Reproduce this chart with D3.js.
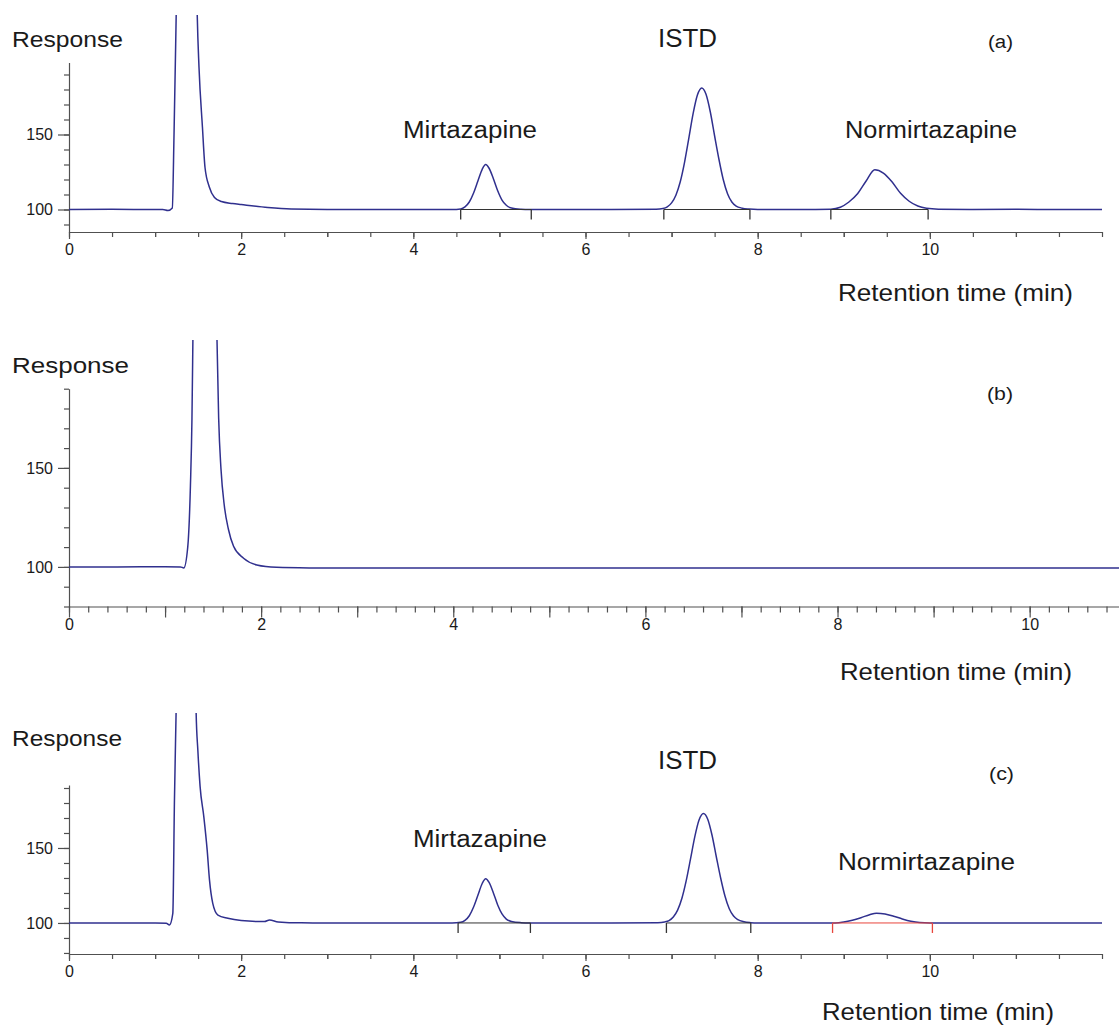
<!DOCTYPE html>
<html>
<head>
  <title>Chromatograms</title>
  <script src="https://d3js.org/d3.v7.min.js"></script>
  <style>
    body { margin: 0; background: #fff; }
    text { font-family: "Liberation Sans", Arial, sans-serif; fill: #1a1a1a; }
  </style>
</head>
<body>
  <div id="chart"></div>

  <script>
    // trace values: [retention time (min), response]
    var traceA = [
      [0, 100], [0.5, 100.1], [1.0, 100], [1.09, 100], [1.15, 99.3], [1.2, 101], [1.22, 150], [1.245, 229],
      [1.3, 420], [1.38, 520], [1.45, 400], [1.49, 229], [1.51, 195], [1.55, 155], [1.58, 128], [1.63, 115],
      [1.69, 108], [1.77, 105.3], [1.9, 104], [2.0, 103.3], [2.31, 101.3], [2.58, 100.3], [3.0, 100], [3.5, 100],
      [4.0, 100], [4.45, 100], [4.55, 100.4], [4.6, 101.8], [4.65, 105], [4.7, 111], [4.75, 119], [4.8, 126.8],
      [4.84, 130], [4.88, 127.5], [4.93, 120.5], [4.98, 112.5], [5.03, 106.3], [5.08, 102.8], [5.14, 101], [5.25, 100.2],
      [5.35, 100], [5.8, 100], [6.3, 100], [6.82, 100.2], [6.9, 100.7], [6.95, 101.8], [7.0, 104.4], [7.05, 109.5],
      [7.1, 118.3], [7.15, 131.3], [7.2, 147.4], [7.25, 163.9], [7.3, 176.3], [7.35, 181], [7.4, 176.8], [7.45, 165],
      [7.5, 149], [7.55, 133.5], [7.6, 120], [7.65, 110.5], [7.7, 105], [7.75, 102.3], [7.82, 100.9], [7.9, 100.3],
      [8.0, 100], [8.5, 100], [8.85, 100.2], [8.96, 101.5], [9.06, 105], [9.16, 110.5], [9.26, 119], [9.36, 126.5],
      [9.46, 124.3], [9.56, 118.5], [9.66, 110.8], [9.76, 105.5], [9.86, 102.3], [9.96, 100.8], [10.1, 100.2], [10.5, 100],
      [11.0, 100.1], [11.5, 100], [12.0, 100]
    ];

    var traceB = [
      [0, 100], [0.5, 100], [1.0, 100.1], [1.16, 100], [1.195, 99.5], [1.236, 110], [1.264, 141], [1.28, 175],
      [1.29, 216], [1.33, 400], [1.42, 520], [1.5, 380], [1.54, 216], [1.558, 175], [1.582, 149.5], [1.617, 130.8],
      [1.66, 118.9], [1.713, 110.4], [1.817, 104.4], [1.955, 101], [2.16, 99.8], [2.5, 99.5], [3, 99.4], [4, 99.5],
      [5, 99.4], [6, 99.5], [7, 99.4], [8, 99.5], [9, 99.4], [10, 99.5], [10.93, 99.4]
    ];

    var traceC = [
      [0, 100], [0.5, 100], [1.0, 99.9], [1.13, 99.8], [1.167, 98.7], [1.206, 106.4], [1.225, 182], [1.244, 240],
      [1.3, 420], [1.4, 480], [1.46, 330], [1.477, 240], [1.497, 215], [1.523, 190.9], [1.566, 170.9], [1.605, 148.7],
      [1.632, 128.7], [1.67, 113.1], [1.73, 105.3], [1.845, 103.1], [2.0, 101.6], [2.27, 100.9], [2.33, 102], [2.43, 100.7],
      [2.7, 100.1], [3.2, 100], [4.0, 100], [4.45, 100], [4.55, 100.4], [4.6, 101.7], [4.65, 104.8], [4.7, 110.6],
      [4.75, 118.5], [4.8, 126.3], [4.84, 129.5], [4.88, 127], [4.93, 120], [4.98, 112], [5.03, 106], [5.08, 102.6],
      [5.14, 101], [5.25, 100.2], [5.35, 100], [5.8, 100], [6.3, 100], [6.84, 100.2], [6.92, 100.7], [6.97, 101.6],
      [7.02, 104], [7.07, 108.6], [7.12, 116.5], [7.17, 128.2], [7.22, 142.7], [7.27, 157.6], [7.32, 168.8], [7.37, 173],
      [7.42, 169.2], [7.47, 158.5], [7.52, 144], [7.57, 130], [7.62, 118], [7.67, 109.5], [7.72, 104.6], [7.77, 102.2],
      [7.84, 100.8], [7.92, 100.2], [8.0, 100], [8.5, 100], [8.9, 100], [9.0, 100.6], [9.1, 101.8], [9.2, 103.5],
      [9.3, 105.5], [9.38, 106.5], [9.48, 106], [9.58, 104.5], [9.68, 102.7], [9.78, 101.2], [9.88, 100.3], [10.0, 100],
      [10.5, 100], [11.0, 100], [11.5, 100], [12.0, 100]
    ];

    // integration windows (start, end) for Mirtazapine, ISTD, Normirtazapine
    var peakNames = ['Mirtazapine', 'ISTD', 'Normirtazapine'];
    var windowsA = [[4.55, 5.37], [6.91, 7.91], [8.85, 9.98]];
    var windowsC = [[4.52, 5.36], [6.94, 7.92], [8.87, 10.03]];

    var yTickLabels = [100, 150];
    var xTickLabels = [0, 2, 4, 6, 8, 10];

    var svg = d3.select('#chart').append('svg')
      .attr('width', 1119)
      .attr('height', 1025);

    var traceColor = '#30308e';
    var axisColor = '#505050';

    var panels = [
      {
        id: 'a', trace: traceA, windows: windowsA, windowColors: ['#333', '#333', '#333'],
        xDomain: [0, 12], xRange: [69, 1102], yDomain: [85, 198], yRange: [232, 62.5], clipTop: 15,
        minorStep: 0.5, minorLen: 5, midLen: 5, majorLen: 7,
        labels: [
          { t: 'Response', x: 12, y: 47, s: 22, w: 111 },
          { t: peakNames[1], x: 658, y: 47, s: 25, w: 59 },
          { t: '(a)', x: 988, y: 48, s: 18, w: 25 },
          { t: peakNames[0], x: 403, y: 138, s: 23, w: 134 },
          { t: peakNames[2], x: 845, y: 138, s: 23, w: 172 },
          { t: 'Retention time (min)', x: 838, y: 301, s: 24, w: 235 }
        ]
      },
      {
        id: 'b', trace: traceB, windows: [], windowColors: [],
        xDomain: [0, 10.93], xRange: [69, 1119], yDomain: [80, 190], yRange: [606.5, 388.7], clipTop: 340,
        minorStep: 0.2, minorLen: 6, midLen: 11, majorLen: 11,
        labels: [
          { t: 'Response', x: 12, y: 373, s: 22, w: 117 },
          { t: '(b)', x: 987, y: 400, s: 18, w: 26 },
          { t: 'Retention time (min)', x: 840, y: 680, s: 24, w: 232 }
        ]
      },
      {
        id: 'c', trace: traceC, windows: windowsC, windowColors: ['#333', '#333', '#e8453c'],
        xDomain: [0, 12], xRange: [69, 1102], yDomain: [79.3, 192], yRange: [954, 785], clipTop: 713,
        minorStep: 0.5, minorLen: 5, midLen: 5, majorLen: 7,
        labels: [
          { t: 'Response', x: 12, y: 746, s: 22, w: 110 },
          { t: peakNames[1], x: 658, y: 769, s: 25, w: 59 },
          { t: '(c)', x: 989, y: 780, s: 18, w: 25 },
          { t: peakNames[0], x: 413, y: 847, s: 23, w: 134 },
          { t: peakNames[2], x: 838, y: 870, s: 23, w: 177 },
          { t: 'Retention time (min)', x: 822, y: 1020, s: 24, w: 232 }
        ]
      }
    ];

    panels.forEach(function(p) {
      var g = svg.append('g').attr('class', 'panel-' + p.id);

      var x = d3.scaleLinear().domain(p.xDomain).range(p.xRange);
      var y = d3.scaleLinear().domain(p.yDomain).range(p.yRange);
      var xAxisY = p.yRange[0];
      var yAxisX = p.xRange[0];

      // x axis: minor ticks, whole-minute ticks, labelled ticks
      var minorTicks = d3.range(0, p.xDomain[1] + 1e-9, p.minorStep).map(function(v) { return +v.toFixed(2); });
      var midTicks = d3.range(1, p.xDomain[1] + 1e-9, 1).filter(function(v) { return v % 2 !== 0; });

      g.append('g')
        .attr('transform', 'translate(0,' + xAxisY + ')')
        .call(d3.axisBottom(x).tickValues(minorTicks).tickSize(p.minorLen).tickSizeOuter(0).tickFormat(''))
        .call(styleAxis);

      g.append('g')
        .attr('transform', 'translate(0,' + xAxisY + ')')
        .call(d3.axisBottom(x).tickValues(midTicks).tickSize(p.midLen).tickSizeOuter(0).tickFormat(''))
        .call(styleAxis)
        .select('.domain').remove();

      g.append('g')
        .attr('transform', 'translate(0,' + xAxisY + ')')
        .call(d3.axisBottom(x).tickValues(xTickLabels).tickSize(p.majorLen).tickPadding(12 - p.majorLen).tickSizeOuter(0))
        .call(styleAxis)
        .select('.domain').remove();

      // y axis: ticks every 10, labels at 100 and 150
      var yMinor = d3.range(Math.ceil(p.yDomain[0] / 10) * 10, p.yDomain[1] + 1e-9, 10);
      g.append('g')
        .attr('transform', 'translate(' + yAxisX + ',0)')
        .call(d3.axisLeft(y).tickValues(yMinor).tickSize(5).tickSizeOuter(0).tickFormat(''))
        .call(styleAxis);

      g.append('g')
        .attr('transform', 'translate(' + yAxisX + ',0)')
        .call(d3.axisLeft(y).tickValues(yTickLabels).tickSize(11).tickPadding(5).tickSizeOuter(0))
        .call(styleAxis)
        .select('.domain').remove();

      // clip the trace where the solvent front runs off the top
      var clipId = 'clip-' + p.id;
      svg.append('clipPath').attr('id', clipId)
        .append('rect')
        .attr('x', p.xRange[0])
        .attr('y', p.clipTop)
        .attr('width', p.xRange[1] - p.xRange[0] + 1)
        .attr('height', xAxisY - p.clipTop);

      var line = d3.line()
        .x(function(d) { return x(d[0]); })
        .y(function(d) { return y(d[1]); })
        .curve(d3.curveMonotoneX);

      g.append('path')
        .datum(p.trace)
        .attr('clip-path', 'url(#' + clipId + ')')
        .attr('d', line)
        .attr('fill', 'none')
        .attr('stroke', traceColor)
        .attr('stroke-width', 1.5)
        .attr('stroke-linejoin', 'round');

      // integration baselines and start/end markers
      var marks = g.selectAll('.win')
        .data(p.windows)
        .enter()
        .append('g')
        .attr('class', 'win');

      marks.append('line')
        .attr('x1', function(d) { return x(d[0]); })
        .attr('x2', function(d) { return x(d[1]); })
        .attr('y1', y(100))
        .attr('y2', y(100))
        .attr('stroke', function(d, i) { return p.windowColors[i]; })
        .attr('stroke-width', 1);

      marks.selectAll('.tick-mark')
        .data(function(d, i) { return [{ t: d[0], c: p.windowColors[i] }, { t: d[1], c: p.windowColors[i] }]; })
        .enter()
        .append('line')
        .attr('class', 'tick-mark')
        .attr('x1', function(d) { return x(d.t); })
        .attr('x2', function(d) { return x(d.t); })
        .attr('y1', y(100))
        .attr('y2', y(100) + 10)
        .attr('stroke', function(d) { return d.c; })
        .attr('stroke-width', 1.3);

      // texts
      g.selectAll('.lbl')
        .data(p.labels)
        .enter()
        .append('text')
        .attr('class', 'lbl')
        .attr('x', function(d) { return d.x; })
        .attr('y', function(d) { return d.y; })
        .attr('font-size', function(d) { return d.s + 'px'; })
        .attr('textLength', function(d) { return d.w; })
        .attr('lengthAdjust', 'spacingAndGlyphs')
        .text(function(d) { return d.t; });
    });

    function styleAxis(sel) {
      sel.select('.domain').attr('stroke', axisColor).attr('stroke-width', 1.2);
      sel.selectAll('.tick line').attr('stroke', axisColor).attr('stroke-width', 1.2);
      sel.selectAll('.tick text')
        .attr('fill', '#1a1a1a')
        .style('font-size', '16px')
        .style('font-family', '"Liberation Sans", Arial, sans-serif');
    }
  </script>
</body>
</html>
